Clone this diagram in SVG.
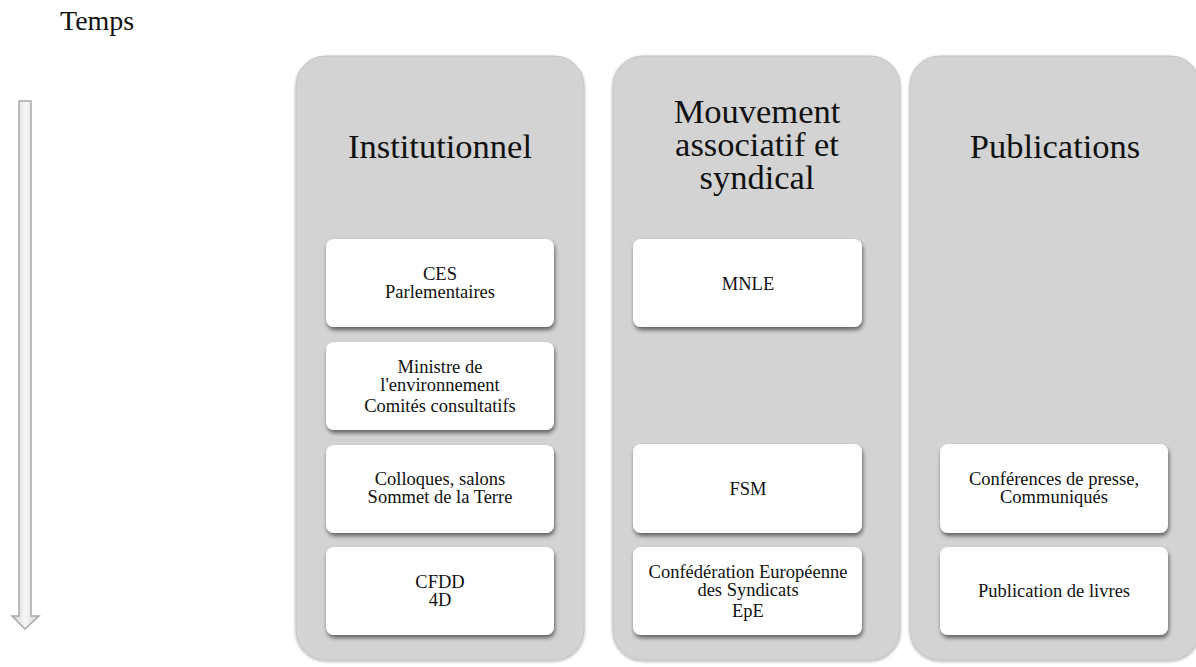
<svg xmlns="http://www.w3.org/2000/svg" width="1196" height="667" viewBox="0 0 1196 667">
<defs>
<filter id="colsh" x="-5%" y="-5%" width="110%" height="110%">
<feGaussianBlur in="SourceAlpha" stdDeviation="1.5"/>
<feOffset dx="0" dy="1"/>
<feComponentTransfer><feFuncA type="linear" slope="0.35"/></feComponentTransfer>
<feMerge><feMergeNode/><feMergeNode in="SourceGraphic"/></feMerge>
</filter>
<filter id="boxsh" x="-10%" y="-10%" width="120%" height="130%">
<feGaussianBlur in="SourceAlpha" stdDeviation="2"/>
<feOffset dx="1" dy="3"/>
<feComponentTransfer><feFuncA type="linear" slope="0.55"/></feComponentTransfer>
<feMerge><feMergeNode/><feMergeNode in="SourceGraphic"/></feMerge>
</filter>
<linearGradient id="arrowg" x1="0" y1="0" x2="1" y2="0">
<stop offset="0" stop-color="#d0d0d0"/>
<stop offset="0.5" stop-color="#f6f6f6"/>
<stop offset="1" stop-color="#d0d0d0"/>
</linearGradient>
</defs>
<style>
.col{fill:#d3d3d3;stroke:#c4c4c4;stroke-width:1}
.box{fill:#ffffff}
.title{font-family:"Liberation Serif","DejaVu Serif",serif;font-size:34.5px;fill:#111;text-anchor:middle}
.lbl{font-family:"Liberation Serif","DejaVu Serif",serif;font-size:18.5px;fill:#111;text-anchor:middle}
</style>
<rect width="1196" height="667" fill="#ffffff"/>
<text x="60" y="30" font-family="Liberation Serif, DejaVu Serif, serif" font-size="28" fill="#111">Temps</text>
<g id="connectors">
<path d="M19,101 L31,101 L31,616 L39,616 L25,629 L12,616 L19,616 Z" fill="url(#arrowg)" stroke="#a8a8a8" stroke-width="1.5"/>
</g>
<g id="col-institutionnel">
<rect class="col" x="296" y="56" width="288" height="604" rx="30" filter="url(#colsh)"/>
<text class="title" x="440" y="158">Institutionnel</text>
</g>
<g id="col-mouvement">
<rect class="col" x="613" y="56" width="287" height="604" rx="30" filter="url(#colsh)"/>
<text class="title" x="757" y="123">Mouvement</text>
<text class="title" x="757" y="156">associatif et</text>
<text class="title" x="757" y="189">syndical</text>
</g>
<g id="col-publications">
<rect class="col" x="910" y="56" width="290" height="604" rx="30" filter="url(#colsh)"/>
<text class="title" x="1055" y="158">Publications</text>
</g>
<g id="node-ces">
<rect class="box" x="326" y="239" width="228" height="88" rx="8" filter="url(#boxsh)"/>
<text class="lbl" x="440" y="280">CES</text>
<text class="lbl" x="440" y="298">Parlementaires</text>
</g>
<g id="node-ministre">
<rect class="box" x="326" y="342" width="228" height="88" rx="8" filter="url(#boxsh)"/>
<text class="lbl" x="440" y="373">Ministre de</text>
<text class="lbl" x="440" y="391">l'environnement</text>
<text class="lbl" x="440" y="412">Comités consultatifs</text>
</g>
<g id="node-colloques">
<rect class="box" x="326" y="445" width="228" height="88" rx="8" filter="url(#boxsh)"/>
<text class="lbl" x="440" y="485">Colloques, salons</text>
<text class="lbl" x="440" y="503">Sommet de la Terre</text>
</g>
<g id="node-cfdd">
<rect class="box" x="326" y="547" width="228" height="88" rx="8" filter="url(#boxsh)"/>
<text class="lbl" x="440" y="588">CFDD</text>
<text class="lbl" x="440" y="606">4D</text>
</g>
<g id="node-mnle">
<rect class="box" x="633" y="239" width="229" height="88" rx="8" filter="url(#boxsh)"/>
<text class="lbl" x="748" y="290">MNLE</text>
</g>
<g id="node-fsm">
<rect class="box" x="633" y="444" width="229" height="89" rx="8" filter="url(#boxsh)"/>
<text class="lbl" x="748" y="495">FSM</text>
</g>
<g id="node-ces-europe">
<rect class="box" x="633" y="547" width="229" height="88" rx="8" filter="url(#boxsh)"/>
<text class="lbl" x="748" y="578">Confédération Européenne</text>
<text class="lbl" x="748" y="596">des Syndicats</text>
<text class="lbl" x="748" y="617">EpE</text>
</g>
<g id="node-conferences">
<rect class="box" x="940" y="444" width="228" height="89" rx="8" filter="url(#boxsh)"/>
<text class="lbl" x="1054" y="485">Conférences de presse,</text>
<text class="lbl" x="1054" y="503">Communiqués</text>
</g>
<g id="node-livres">
<rect class="box" x="940" y="547" width="228" height="88" rx="8" filter="url(#boxsh)"/>
<text class="lbl" x="1054" y="597">Publication de livres</text>
</g>
</svg>
